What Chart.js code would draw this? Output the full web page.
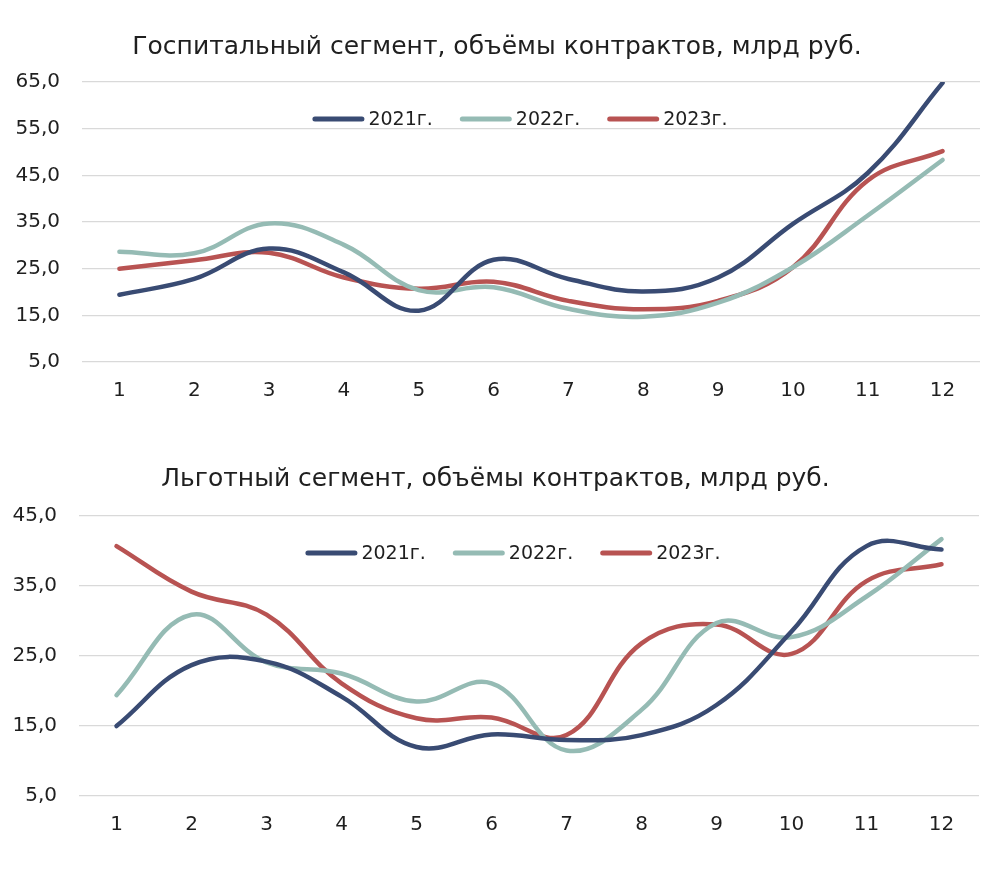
<!DOCTYPE html>
<html>
<head>
<meta charset="utf-8">
<script src="https://cdn.jsdelivr.net/npm/chart.js@4.4.1/dist/chart.umd.min.js"></script>
<style>
  html, body { margin: 0; padding: 0; background: #fff; }
  .box { position: absolute; left: 0; width: 986px; }
  #topBox { top: 0; height: 430px; }
  #botBox { top: 430px; height: 444px; }
</style>
</head>
<body>
<div class="box" id="topBox"><canvas id="hospChart"></canvas></div>
<div class="box" id="botBox"><canvas id="lgotChart"></canvas></div>
<script>
// месяцы
const months = ['1', '2', '3', '4', '5', '6', '7', '8', '9', '10', '11', '12'];
const years = ['2021г.', '2022г.', '2023г.'];

// Госпитальный сегмент, млрд руб.
const hosp2021 = [19.4, 22.8, 29.3, 24.2, 16.0, 26.9, 22.8, 20.1, 23.1, 34.6, 45.5, 64.8];
const hosp2022 = [28.6, 28.3, 34.7, 30.1, 20.4, 21.0, 16.4, 14.7, 17.7, 25.3, 36.4, 48.3];
const hosp2023 = [25.0, 26.8, 28.4, 23.1, 20.7, 22.2, 18.1, 16.3, 18.1, 25.3, 43.9, 50.2];

// Льготный сегмент, млрд руб.
const lgot2021 = [15.0, 23.7, 24.2, 19.2, 12.0, 13.8, 13.0, 13.7, 18.0, 28.5, 40.7, 40.2];
const lgot2022 = [19.4, 30.9, 24.1, 22.5, 18.5, 21.1, 11.5, 17.3, 29.7, 27.7, 33.5, 41.7];
const lgot2023 = [40.7, 34.2, 30.9, 21.1, 16.1, 16.2, 13.7, 26.8, 29.5, 25.3, 35.7, 38.1];

const colors = ['#394b73', '#95bbb4', '#b85352'];
const FONT = '"DejaVu Sans", sans-serif';
const TEXT = '#1f1f1f';

// легенда внутри области графика
const innerLegend = {
    id: 'innerLegend',
    afterDraw(chart, args, opts) {
        const ctx = chart.ctx;
        const area = chart.chartArea;
        const sets = chart.data.datasets;
        ctx.save();
        ctx.font = '19px ' + FONT;
        const lineW = 52, gap = 4, between = 27;
        let total = 0;
        sets.forEach((ds, i) => {
            total += lineW + gap + ctx.measureText(ds.label).width;
            if (i < sets.length - 1) total += between;
        });
        let x = (area.left + area.right) / 2 - total / 2 + (opts.shift || 0);
        const y = area.top + 37;
        sets.forEach(ds => {
            ctx.strokeStyle = ds.borderColor;
            ctx.lineWidth = 5;
            ctx.lineCap = 'round';
            ctx.beginPath();
            ctx.moveTo(x + 2.5, y);
            ctx.lineTo(x + lineW - 2.5, y);
            ctx.stroke();
            ctx.fillStyle = TEXT;
            ctx.textBaseline = 'middle';
            ctx.textAlign = 'left';
            ctx.fillText(ds.label, x + lineW + gap, y + 1);
            x += lineW + gap + ctx.measureText(ds.label).width + between;
        });
        ctx.restore();
    }
};

function makeChart(id, title, series, yMax, pad, axisW, titleBottom, shift) {
    return new Chart(document.getElementById(id), {
        type: 'line',
        plugins: [innerLegend],
        data: {
            labels: months,
            datasets: series.map((data, i) => ({
                label: years[i],
                data: data,
                borderColor: colors[i],
                backgroundColor: colors[i],
                borderWidth: 4.5,
                borderCapStyle: 'round',
                tension: 0.4,
                pointRadius: 0,
                fill: false
            }))
        },
        options: {
            responsive: true,
            maintainAspectRatio: false,
            animation: false,
            layout: { padding: pad },
            plugins: {
                legend: { display: false },
                tooltip: { enabled: false },
                innerLegend: { shift: shift },
                title: {
                    display: true,
                    text: title,
                    color: TEXT,
                    font: { family: FONT, size: 25, weight: 'normal' },
                    padding: { top: 0, bottom: titleBottom }
                }
            },
            scales: {
                x: {
                    offset: true,
                    grid: { display: false },
                    border: { display: false },
                    ticks: { color: TEXT, padding: 9, font: { family: FONT, size: 20 } }
                },
                y: {
                    min: 5,
                    max: yMax,
                    afterFit: s => { s.width = axisW; },
                    grid: { color: '#d9d9d9', lineWidth: 1.3, drawTicks: false },
                    border: { display: false },
                    ticks: {
                        stepSize: 10,
                        color: TEXT,
                        padding: 22,
                        font: { family: FONT, size: 20 },
                        callback: v => v.toFixed(1).replace('.', ',')
                    }
                }
            }
        }
    });
}

makeChart('hospChart', 'Госпитальный сегмент, объёмы контрактов, млрд руб.',
    [hosp2021, hosp2022, hosp2023], 65,
    { left: 14, right: 6, top: 32, bottom: 18 }, 68, 20, -11);
makeChart('lgotChart', 'Льготный сегмент, объёмы контрактов, млрд руб.',
    [lgot2021, lgot2022, lgot2023], 45,
    { left: 12, right: 7, top: 34, bottom: 28 }, 67, 22, -16);
</script>
</body>
</html>
